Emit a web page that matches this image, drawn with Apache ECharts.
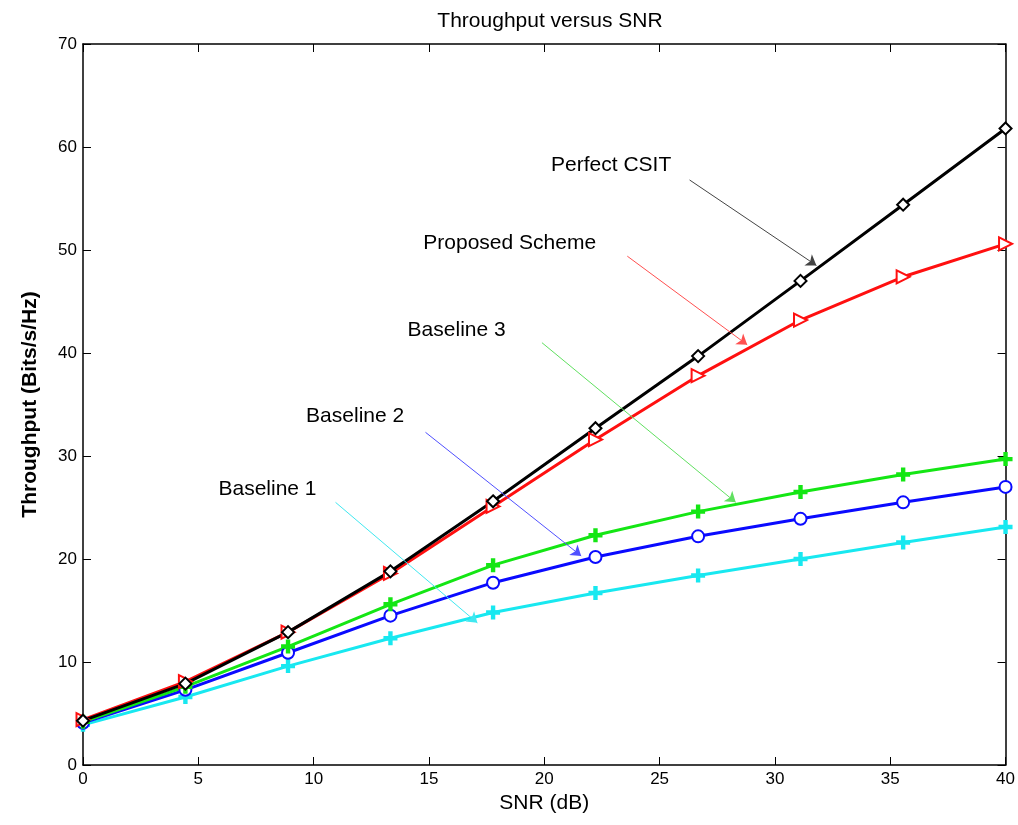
<!DOCTYPE html>
<html>
<head>
<meta charset="utf-8">
<script src="https://cdn.jsdelivr.net/npm/echarts@6/dist/echarts.min.js"></script>
<style>
  html, body { margin: 0; padding: 0; background: #fff; }
  #chart { width: 1018px; height: 825px; }
</style>
</head>
<body>
<div id="chart"></div>
<script>
// SNR points (dB)
var snr = [0, 4.44, 8.89, 13.33, 17.78, 22.22, 26.67, 31.11, 35.56, 40];

// throughput per scheme (Bits/s/Hz)
var baseline1 = [3.9, 6.6, 9.6, 12.3, 14.8, 16.7, 18.4, 20.0, 21.6, 23.1];
var baseline2 = [4.1, 7.3, 10.9, 14.5, 17.7, 20.2, 22.2, 23.9, 25.5, 27.0];
var baseline3 = [4.2, 7.6, 11.5, 15.6, 19.4, 22.3, 24.6, 26.5, 28.2, 29.7];
var proposed = [4.4, 8.1, 12.9, 18.6, 25.1, 31.6, 37.8, 43.2, 47.4, 50.6];
var perfect = [4.3, 7.9, 12.9, 18.8, 25.6, 32.7, 39.7, 47.0, 54.4, 61.8];

var xTicks = [0, 5, 10, 15, 20, 25, 30, 35, 40];
var yTicks = [0, 10, 20, 30, 40, 50, 60, 70];

// annotation labels: [x, y, text]
var labels = [
  [22.9, 58.2, 'Perfect CSIT'],
  [18.5, 50.7, 'Proposed Scheme'],
  [16.2, 42.2, 'Baseline 3'],
  [11.8, 33.9, 'Baseline 2'],
  [8.0, 26.8, 'Baseline 1']
];
// arrows: [x1, y1, x2, y2]
var arrows = [
  [26.3, 56.8, 31.8, 48.5],
  [23.6, 49.4, 28.8, 40.8],
  [19.9, 41.0, 28.3, 25.5],
  [14.85, 32.3, 21.6, 20.3],
  [10.95, 25.5, 17.1, 13.8]
];
var arrowColors = ['#444444', '#ff5050', '#60e060', '#5050ff', '#40e8f0'];

var chart = echarts.init(document.getElementById('chart'));

function pairs(ys) {
  return snr.map(function (x, i) { return [x, ys[i]]; });
}

var plus = 'path://M4,0H6V4H10V6H6V10H4V6H0V4H4Z';
var font = '"Liberation Sans Narrow", "Liberation Sans", Arial, sans-serif';

function lineSeries(name, ys, color, symbol, size, rotate) {
  return {
    name: name,
    type: 'line',
    data: pairs(ys),
    symbol: symbol,
    symbolSize: size,
    symbolRotate: rotate || 0,
    showSymbol: true,
    lineStyle: { color: color, width: 3 },
    itemStyle: { color: color, borderColor: color, borderWidth: 2 },
    z: 3
  };
}

var annData = labels.map(function (l) { return [l[0], l[1], l[2]]; });
var arrowData = arrows.map(function (a, i) {
  return [
    { coord: [a[0], a[1]], lineStyle: { color: arrowColors[i], width: 1, type: 'solid' },
      itemStyle: { color: arrowColors[i] } },
    { coord: [a[2], a[3]], itemStyle: { color: arrowColors[i] } }
  ];
});

var option = {
  animation: false,
  backgroundColor: '#fff',
  title: {
    text: 'Throughput versus SNR',
    left: 545,
    textAlign: 'center',
    top: 6,
    textStyle: { fontFamily: font, fontWeight: 'normal', fontSize: 21, color: '#000' }
  },
  grid: { left: 83, right: 11, top: 44, bottom: 60 },
  xAxis: [{
    type: 'value',
    min: 0, max: 40, interval: 5,
    name: 'SNR (dB)',
    nameLocation: 'middle',
    nameGap: 27,
    nameTextStyle: { fontFamily: 'Liberation Sans, Arial, sans-serif', fontSize: 21, color: '#000' },
    axisLine: { onZero: false, lineStyle: { color: '#000', width: 1.5 } },
    axisTick: { inside: true, length: 8, lineStyle: { color: '#000' } },
    axisLabel: {
      fontFamily: font, fontSize: 17, color: '#000', margin: 6,
      formatter: function (v) { return xTicks.indexOf(v) >= 0 ? String(v) : ''; }
    },
    splitLine: { show: false }
  }, {
    type: 'value', position: 'top',
    min: 0, max: 40, interval: 5,
    axisLine: { onZero: false, lineStyle: { color: '#000', width: 1.5 } },
    axisTick: { inside: true, length: 8, lineStyle: { color: '#000' } },
    axisLabel: { show: false },
    splitLine: { show: false }
  }],
  yAxis: [{
    type: 'value',
    min: 0, max: 70, interval: 10,
    name: 'Throughput (Bits/s/Hz)',
    nameLocation: 'middle',
    nameGap: 42,
    nameTextStyle: { fontFamily: 'Liberation Sans, Arial, sans-serif', fontSize: 21, fontWeight: 'bold', color: '#000' },
    axisLine: { onZero: false, lineStyle: { color: '#000', width: 1.5 } },
    axisTick: { inside: true, length: 8, lineStyle: { color: '#000' } },
    axisLabel: {
      fontFamily: font, fontSize: 17, color: '#000', margin: 6,
      formatter: function (v) { return yTicks.indexOf(v) >= 0 ? String(v) : ''; }
    },
    splitLine: { show: false }
  }, {
    type: 'value', position: 'right',
    min: 0, max: 70, interval: 10,
    axisLine: { onZero: false, lineStyle: { color: '#000', width: 1.5 } },
    axisTick: { inside: true, length: 8, lineStyle: { color: '#000' } },
    axisLabel: { show: false },
    splitLine: { show: false }
  }],
  series: [
    lineSeries('Baseline 1', baseline1, '#18e8f0', plus, 12),
    lineSeries('Baseline 2', baseline2, '#0a0aff', 'emptyCircle', 12),
    lineSeries('Baseline 3', baseline3, '#14e614', plus, 12),
    lineSeries('Proposed Scheme', proposed, '#ff1010', 'emptyTriangle', 13, -90),
    lineSeries('Perfect CSIT', perfect, '#000000', 'emptyDiamond', 12),
    {
      name: 'annotations',
      type: 'scatter',
      data: annData,
      symbolSize: 1,
      itemStyle: { color: 'rgba(0,0,0,0)' },
      silent: true,
      z: 5,
      label: {
        show: true,
        position: 'inside',
        formatter: function (p) { return p.value[2]; },
        fontFamily: 'Liberation Sans, Arial, sans-serif',
        fontSize: 21,
        color: '#000',
        opacity: 1,
        textBorderWidth: 0
      },
      markLine: {
        silent: true,
        symbol: ['none', 'arrow'],
        symbolSize: 10,
        label: { show: false },
        data: arrowData
      }
    }
  ]
};
chart.setOption(option);
</script>
</body>
</html>
